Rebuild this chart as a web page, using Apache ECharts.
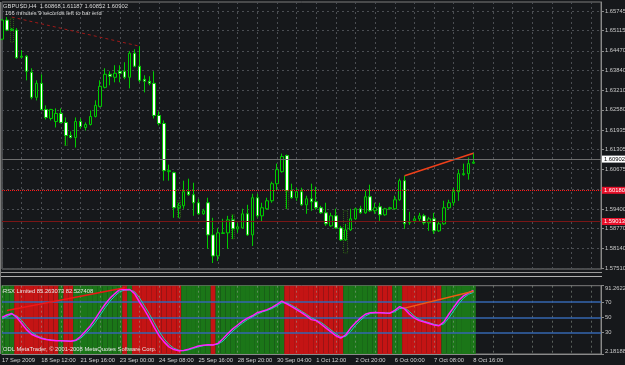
<!DOCTYPE html>
<html><head><meta charset="utf-8">
<script src="https://cdn.jsdelivr.net/npm/echarts@6/dist/echarts.min.js"></script>
<style>html,body{margin:0;padding:0;background:#16181b;}#c{width:625px;height:365px;}</style>
</head><body><div id="c"></div>
<script>
const symbolName = 'GBPUSD,H4';
const timerText = '166 minutes 9 seconds left to bar end';
const copyrightText = 'ODL MetaTrader, \u00a9 2001-2008 MetaQuotes Software Corp.';
const timeLabels = ['17 Sep 2009','18 Sep 12:00','21 Sep 16:00','23 Sep 00:00','24 Sep 08:00','25 Sep 16:00','28 Sep 20:00','30 Sep 04:00','1 Oct 12:00','2 Oct 20:00','6 Oct 00:00','7 Oct 08:00','8 Oct 16:00'];
const priceTicks = [1.57510,1.58140,1.58770,1.59400,1.60045,1.60675,1.61305,1.61935,1.62580,1.63210,1.63840,1.64470,1.65115,1.65745];
const barOpen = [1.64844,1.65456,1.65134,1.65134,1.64265,1.64298,1.63783,1.62979,1.63429,1.62592,
 1.62303,1.62206,1.62464,1.62174,1.61756,1.61692,1.62206,1.62013,1.62110,1.62367,
 1.62689,1.63300,1.63718,1.63622,1.63815,1.63815,1.63622,1.64394,1.63976,1.63558,
 1.63493,1.63429,1.62399,1.62142,1.60598,1.60566,1.59440,1.59504,1.59955,1.59858,
 1.59601,1.59247,1.59601,1.58571,1.57896,1.58620,1.58636,1.59054,1.58764,1.58796,
 1.59247,1.58571,1.59762,1.59182,1.59408,1.59665,1.60212,1.60598,1.61113,1.59987,
 1.59762,1.59955,1.59536,1.59729,1.59633,1.59440,1.59279,1.58861,1.59182,1.58796,
 1.58410,1.58732,1.59086,1.59408,1.59279,1.59794,1.59343,1.59472,1.59215,1.59408,
 1.59408,1.59697,1.60308,1.58957,1.59022,1.59086,1.59182,1.58957,1.59086,1.58700,
 1.58925,1.59440,1.59601,1.59955,1.60501,1.60534,1.60868];
const barClose = [1.65456,1.65134,1.65166,1.64249,1.64298,1.63815,1.62979,1.63429,1.62592,1.62335,
 1.62592,1.62464,1.62174,1.61756,1.61692,1.62206,1.62046,1.62110,1.62367,1.62721,
 1.63332,1.63718,1.63654,1.63751,1.63751,1.63622,1.64394,1.63976,1.63525,1.63493,
 1.63429,1.62399,1.62142,1.60630,1.60630,1.59440,1.59504,1.59955,1.59858,1.59601,
 1.59247,1.59343,1.58571,1.57896,1.58636,1.58636,1.59054,1.58764,1.58829,1.59247,
 1.58571,1.59762,1.59182,1.59440,1.59665,1.60212,1.60662,1.61081,1.59987,1.59762,
 1.59955,1.59536,1.59729,1.59633,1.59440,1.59279,1.58925,1.59182,1.58796,1.58410,
 1.58732,1.59086,1.59408,1.59279,1.59794,1.59343,1.59440,1.59215,1.59408,1.59440,
 1.59697,1.60308,1.58925,1.58973,1.59086,1.59182,1.58957,1.59086,1.58700,1.58925,
 1.59440,1.59601,1.59955,1.60534,1.60534,1.60855,1.60902];
const barLow = [1.64812,1.65102,1.65102,1.64217,1.64233,1.63525,1.62914,1.62882,1.62560,1.62271,
 1.62239,1.62013,1.62142,1.61434,1.61660,1.61370,1.61981,1.61917,1.62078,1.62335,
 1.62657,1.63268,1.63365,1.63461,1.63461,1.63558,1.63268,1.63944,1.63461,1.63139,
 1.63365,1.62303,1.62078,1.60308,1.60308,1.59118,1.59118,1.59408,1.59826,1.59182,
 1.59215,1.59215,1.58121,1.57670,1.57735,1.58603,1.58121,1.58443,1.58636,1.58764,
 1.58539,1.58217,1.59118,1.58989,1.59375,1.59601,1.59987,1.60566,1.59408,1.59729,
 1.59665,1.59504,1.59247,1.59343,1.59375,1.59247,1.58861,1.58829,1.58764,1.58378,
 1.58378,1.58700,1.59054,1.59247,1.59247,1.59311,1.59247,1.59022,1.59182,1.59375,
 1.59375,1.59665,1.58764,1.58893,1.58957,1.58989,1.58893,1.58700,1.58603,1.58668,
 1.58893,1.59408,1.59504,1.59665,1.60469,1.60341,1.60852];
const barHigh = [1.65488,1.65552,1.65198,1.65198,1.64491,1.64330,1.63911,1.63525,1.63718,1.62721,
 1.62609,1.62625,1.62625,1.62335,1.61885,1.62335,1.62303,1.62174,1.62560,1.62882,
 1.63525,1.63911,1.63815,1.64008,1.64008,1.64105,1.64458,1.64523,1.64619,1.63686,
 1.63654,1.63815,1.62528,1.62239,1.60823,1.60598,1.59601,1.60308,1.60373,1.60244,
 1.59729,1.59408,1.59762,1.59118,1.58796,1.59086,1.59182,1.59215,1.58957,1.59408,
 1.59536,1.59890,1.59890,1.59601,1.59762,1.60276,1.60855,1.61177,1.61145,1.60212,
 1.60083,1.60083,1.59826,1.60212,1.60115,1.59504,1.59601,1.59279,1.59408,1.58861,
 1.58925,1.59408,1.59440,1.59504,1.59987,1.60180,1.59601,1.59601,1.59440,1.59472,
 1.59826,1.60373,1.60469,1.59311,1.59182,1.59279,1.59247,1.59150,1.59279,1.59022,
 1.59665,1.59697,1.60083,1.60662,1.60855,1.61048,1.61187];
// faint dotted "ghost" bars seen behind a few candles: [barIndex, bottom, top]
const ghostBars = [[2,1.64748,1.65520],[13,1.61434,1.61756],[36,1.59118,1.59665],[47,1.58443,1.59215],[58,1.59408,1.59987],[70,1.57992,1.59343]];
const bidPrice = 1.60902;
const redLevel = 1.60180;
const darkRedLevel = 1.59013;
const priceTrendA = [[2,1.65552],[28,1.64619]];
const priceTrendB = [[82,1.60469],[96,1.61187]];
const rsxValues = [50,53,55,50,42,34,28,25,22.5,21,
 20,19.4,19.6,19.2,18.7,20,25,32,39,48,
 58,67,75,81,86.5,86,86.3,81,70,60,
 49,37,26,18,11.5,8,6.5,6.8,8.5,10.5,
 12.5,13.5,14.3,14.0,16,22,29,35,40,45,
 49,52,56,58,60,63,67,71,67.5,64,
 60,56,52,47,45.7,41,36,31,26,23,
 27,36,43,49,54,56,56.2,55.9,55.6,55.4,
 59,64,61,54,49,45.7,44,42,40,39,
 44,54,63,72,78,82,85.263073];
const rsxSignal = [48,51,54,52,46,38,31,26.5,23.5,21.5,
 20.5,19.8,19.6,19.4,19,19.5,22.5,28.5,35.5,43.5,
 53,62.5,71,78,83.5,85.5,86,83.5,75.5,65,
 54.5,43,31.5,22,14.7,9.7,7.2,6.6,7.6,9.5,
 11.5,13,13.8,14.1,15,19,25.5,32,37.5,42.5,
 47,50.5,54,57,59,61.5,65,69,69,65.7,
 62,58,54,49.5,46.3,43.3,38.5,33.5,28.5,24.5,
 25,31.5,39.5,46,51.5,55,56,56,55.7,55.5,
 57.3,61.5,62.5,57.5,51.5,47.3,44.8,43,41,39.5,
 41.5,49,58.5,67.5,75,80,82.527408];
const rsxSlope = ('GGG'+'RRRRRRRRR'+'G'+'RR'+'GGGGGGGGGG'+'R'+'G'+'RRRRRRRRRR'+'GGGGGG'+'R'+'GGGGGGGGGGGGGG'+'RRRRRRRRRRRR'+'GGGGGGG'+'RRR'+'GG'+'RRRRRRRR'+'GGGGGGG').split('');
const rsxLevels = [30,50,70];
const rsxTicks = [2.18188,30,50,70,91.2622];
const rsxTrendA = [[1,59],[25,88.5]];
const rsxTrendB = [[82,62],[96,84]];
const totalSlots = 123;

const BG = '#16181b';
const FONT = '"Liberation Sans", Arial, sans-serif';
const FS = 5.8;
const cats = Array.from({length: totalSlots}, (_, i) => String(i));
const candleData = barOpen.map((o, i) => [o, barClose[i], barLow[i], barHigh[i]]);
const ghostData = barOpen.map(() => '-');
ghostBars.forEach(g => { ghostData[g[0]] = [g[1], g[2], g[1], g[2]]; });
const last = barOpen.length - 1;
const gridLine = {show: true, lineStyle: {color: '#4b4e53', type: [2, 3], width: 1}};

const chart = echarts.init(document.getElementById('c'), null, {renderer: 'canvas'});
chart.setOption({
  backgroundColor: BG,
  animation: false,
  grid: [
    {left: 2, width: 599, top: 2, height: 267, show: true, borderColor: '#7d7d7d', borderWidth: 1, backgroundColor: 'transparent', outerBoundsMode: 'none', containLabel: false},
    {left: 2, width: 599, top: 285.7, height: 68.3, show: true, borderColor: '#7d7d7d', borderWidth: 1, backgroundColor: 'transparent', outerBoundsMode: 'none', containLabel: false}
  ],
  xAxis: [
    {gridIndex: 0, type: 'category', data: cats, boundaryGap: false,
     axisLine: {show: false}, axisTick: {show: false}, axisLabel: {show: false},
     splitLine: Object.assign({interval: 3}, gridLine)},
    {gridIndex: 1, type: 'category', data: cats, boundaryGap: false, z: 4,
     axisLine: {show: true, lineStyle: {color: '#8a8a8a'}}, axisTick: {show: false},
     axisLabel: {show: true, interval: 7, align: 'left', margin: 3, color: '#d4d4d4', fontSize: FS, fontFamily: FONT,
       formatter: (v, i) => (i % 8 === 0 && timeLabels[i / 8]) ? timeLabels[i / 8] : ''},
     splitLine: {show: true, interval: 3, lineStyle: {color: 'rgba(150,160,150,0.55)', type: [2, 3], width: 1}}}
  ],
  yAxis: [
    {gridIndex: 0, type: 'value', position: 'right', min: 1.57478, max: 1.66035, scale: true,
     axisLine: {show: true, lineStyle: {color: '#8a8a8a'}},
     axisTick: {show: true, length: 3, customValues: priceTicks, lineStyle: {color: '#8a8a8a'}},
     axisLabel: {show: true, customValues: priceTicks, margin: 4, color: '#c8c8c8', fontSize: FS, fontFamily: FONT,
       formatter: v => v.toFixed(5)},
     splitLine: gridLine},
    {gridIndex: 1, type: 'value', position: 'right', min: 2.18188, max: 91.2622,
     axisLine: {show: true, lineStyle: {color: '#8a8a8a'}},
     axisTick: {show: true, length: 3, customValues: rsxTicks, lineStyle: {color: '#8a8a8a'}},
     axisLabel: {show: true, customValues: rsxTicks, margin: 4, color: '#c8c8c8', fontSize: FS, fontFamily: FONT,
       verticalAlignMaxLabel: 'top', verticalAlignMinLabel: 'bottom',
       formatter: v => (v === 2.18188 || v === 91.2622) ? v.toFixed(5) : String(v)},
     splitLine: {show: false}}
  ],
  series: [
    {type: 'candlestick', xAxisIndex: 0, yAxisIndex: 0, data: ghostData, barWidth: 4, clip: false, z: 1,
     itemStyle: {color: 'transparent', color0: 'transparent', borderColor: '#2f6516', borderColor0: '#2f6516', borderWidth: 1, borderType: [1, 1]}},
    {type: 'candlestick', xAxisIndex: 0, yAxisIndex: 0, data: candleData, barWidth: 3, clip: false, z: 2,
     itemStyle: {color: BG, color0: '#ffffff', borderColor: '#00cc00', borderColor0: '#00cc00', borderWidth: 1},
     markLine: {silent: true, symbol: 'none', animation: false,
       data: [
         {yAxis: bidPrice, lineStyle: {color: '#6e6e6e', type: 'solid', width: 1},
          label: {show: true, position: 'end', distance: 1, formatter: bidPrice.toFixed(5), color: '#000', backgroundColor: '#ffffff', padding: [1, 2, 0, 2], fontSize: FS, fontFamily: FONT}},
         {yAxis: redLevel, lineStyle: {color: '#ff1a1a', type: [1, 1], width: 1},
          label: {show: true, position: 'end', distance: 1, formatter: redLevel.toFixed(5), color: '#fff', backgroundColor: '#e8102a', padding: [1, 2, 0, 2], fontSize: FS, fontFamily: FONT}},
         {yAxis: darkRedLevel, lineStyle: {color: '#7a1616', type: 'solid', width: 1},
          label: {show: true, position: 'end', distance: 1, formatter: darkRedLevel.toFixed(5), color: '#fff', backgroundColor: '#e8102a', padding: [1, 2, 0, 2], fontSize: FS, fontFamily: FONT}}
       ]}},
    {type: 'line', xAxisIndex: 0, yAxisIndex: 0, data: priceTrendA, symbol: 'none', z: 3,
     lineStyle: {color: '#a01818', width: 1, type: [3, 3]}},
    {type: 'line', xAxisIndex: 0, yAxisIndex: 0, data: priceTrendB, symbol: 'none', z: 3,
     lineStyle: {color: '#f0401a', width: 1.5}},
    {type: 'bar', xAxisIndex: 1, yAxisIndex: 1, barWidth: '100%', z: 1,
     data: rsxSlope.map(s => ({value: 91.2622, itemStyle: {color: s === 'R' ? '#c41414' : '#1b7618'}}))},
    {type: 'line', xAxisIndex: 1, yAxisIndex: 1, data: rsxSignal, symbol: 'none', z: 8,
     lineStyle: {color: '#1fc8c0', width: 1}},
    {type: 'line', xAxisIndex: 1, yAxisIndex: 1, data: rsxValues, symbol: 'none', z: 9,
     lineStyle: {color: '#ff20ff', width: 1.5},
     markLine: {silent: true, symbol: 'none', animation: false, label: {show: false}, z: 5,
       lineStyle: {color: '#3566b0', type: 'solid', width: 1.5},
       data: rsxLevels.map(v => ({yAxis: v}))}},
    {type: 'line', xAxisIndex: 1, yAxisIndex: 1, data: rsxTrendA, symbol: 'none', z: 10,
     lineStyle: {color: '#ee1818', width: 1.5}},
    {type: 'line', xAxisIndex: 1, yAxisIndex: 1, data: rsxTrendB, symbol: 'none', z: 10,
     lineStyle: {color: '#f05a14', width: 1.5}}
  ],
  graphic: [
    {type: 'text', x: 3, y: 6, z: 20, style: {text: symbolName + '  ' + [barOpen[last], barHigh[last], barLow[last], barClose[last]].map(v => v.toFixed(5)).join(' '), fill: '#dcdcdc', font: FS + 'px ' + FONT, verticalAlign: 'middle'}},
    {type: 'text', x: 5, y: 13, z: 20, style: {text: timerText, fill: '#dcdcdc', font: FS + 'px ' + FONT, verticalAlign: 'middle'}},
    {type: 'text', x: 3, y: 291, z: 20, style: {text: 'RSX Limited ' + rsxValues[last].toFixed(6) + ' ' + rsxSignal[last].toFixed(6), fill: '#e8e8e8', font: FS + 'px ' + FONT, verticalAlign: 'middle'}},
    {type: 'text', x: 3, y: 349, z: 20, style: {text: copyrightText, fill: '#e8e8e8', font: FS + 'px ' + FONT, verticalAlign: 'middle'}},
    {type: 'line', z: 20, shape: {x1: 0, y1: 272.5, x2: 602, y2: 272.5}, style: {stroke: '#9a9a9a', lineWidth: 1}},
    {type: 'line', z: 20, shape: {x1: 0, y1: 276.5, x2: 602, y2: 276.5}, style: {stroke: '#b0b0b0', lineWidth: 1}},
    {type: 'line', z: 20, shape: {x1: 0.5, y1: 2, x2: 0.5, y2: 354}, style: {stroke: '#7d7d7d', lineWidth: 1}}
  ]
});
</script></body></html>
